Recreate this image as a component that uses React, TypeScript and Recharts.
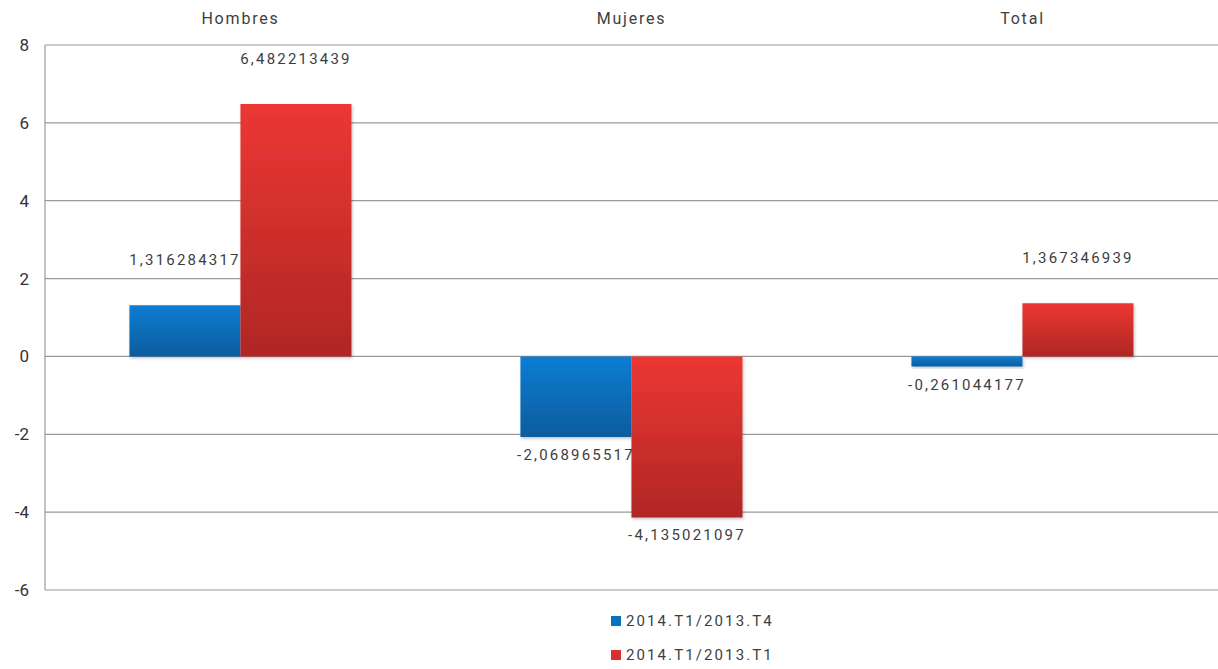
import { BarChart, Bar, XAxis, YAxis, CartesianGrid, Legend, LabelList } from "recharts";

const categories = ["Hombres", "Mujeres", "Total"];
const seriesT4 = [1.316284317, -2.068965517, -0.261044177];
const seriesT1 = [6.482213439, -4.135021097, 1.367346939];
const yTicks = [-6, -4, -2, 0, 2, 4, 6, 8];

const SERIES = [
  { key: "t4", name: "2014.T1/2013.T4", color: "#0a72c2", grad: "gradBlue" },
  { key: "t1", name: "2014.T1/2013.T1", color: "#d8302d", grad: "gradRed" },
];

const data = categories.map((label, i) => ({
  label,
  t4: seriesT4[i],
  t1: seriesT1[i],
}));

const FONT = "Roboto, 'DejaVu Sans', sans-serif";
const TEXT = "#3e3e3e";

const fmt = (v: number) => String(v).replace(".", ",");

const renderValue = (props: any) => {
  const x = Number(props.x);
  const y = Number(props.y);
  const w = Number(props.width);
  const h = Number(props.height);
  const v = Number(props.value);
  const top = Math.min(y, y + h);
  const bottom = Math.max(y, y + h);
  const cy = v >= 0 ? top - 45 : bottom + 18;
  return (
    <text
      x={x + w / 2}
      y={cy}
      textAnchor="middle"
      dominantBaseline="central"
      fill={TEXT}
      fontSize={15}
      letterSpacing={2.2}
      fontFamily={FONT}
    >
      {fmt(v)}
    </text>
  );
};

const renderLegend = () => (
  <div style={{ fontFamily: FONT }}>
    {SERIES.map((s) => (
      <div
        key={s.key}
        style={{ display: "flex", alignItems: "center", height: 34, color: TEXT, fontSize: 15, letterSpacing: 2.1 }}
      >
        <span style={{ width: 10, height: 10, background: s.color, marginRight: 5, display: "inline-block" }} />
        {s.name}
      </div>
    ))}
  </div>
);

export default function App() {
  return (
    <div style={{ position: "absolute", left: 0, top: 0, background: "#fff" }}>
      <BarChart
        width={1218}
        height={669}
        data={data}
        margin={{ top: 0, right: 0, left: 0, bottom: 79 }}
        barCategoryGap="21.6%"
        barGap={0}
      >
        <defs>
          <linearGradient id="gradBlue" x1="0" y1="0" x2="0" y2="1">
            <stop offset="0%" stopColor="#0b7dd2" />
            <stop offset="100%" stopColor="#075c9e" />
          </linearGradient>
          <linearGradient id="gradRed" x1="0" y1="0" x2="0" y2="1">
            <stop offset="0%" stopColor="#ec3733" />
            <stop offset="100%" stopColor="#b02725" />
          </linearGradient>
          <filter id="barShadow" x="-10%" y="-10%" width="130%" height="130%">
            <feDropShadow dx="1" dy="1.5" stdDeviation="1.5" floodColor="#000" floodOpacity="0.25" />
          </filter>
        </defs>
        <CartesianGrid vertical={false} stroke="#9a9a9a" strokeWidth={1.2} />
        <XAxis
          dataKey="label"
          orientation="top"
          height={45}
          axisLine={false}
          tickLine={false}
          tickSize={0}
          tickMargin={21}
          tick={{ fill: TEXT, fontSize: 16, fontFamily: FONT, letterSpacing: 1.8 }}
        />
        <YAxis
          width={45}
          domain={[-6, 8]}
          ticks={yTicks}
          interval={0}
          axisLine={{ stroke: "#9a9a9a", strokeWidth: 1.2 }}
          tickLine={false}
          tickSize={0}
          tickMargin={16}
          tick={{ fill: "#333", fontSize: 17, fontFamily: FONT }}
        />
        <Legend
          layout="vertical"
          align="center"
          verticalAlign="middle"
          content={renderLegend}
          wrapperStyle={{ left: 611, top: 604, width: 220 }}
        />
        {SERIES.map((s) => (
          <Bar
            key={s.key}
            dataKey={s.key}
            name={s.name}
            fill={`url(#${s.grad})`}
            filter="url(#barShadow)"
            isAnimationActive={false}
          >
            <LabelList dataKey={s.key} content={renderValue} />
          </Bar>
        ))}
      </BarChart>
    </div>
  );
}
